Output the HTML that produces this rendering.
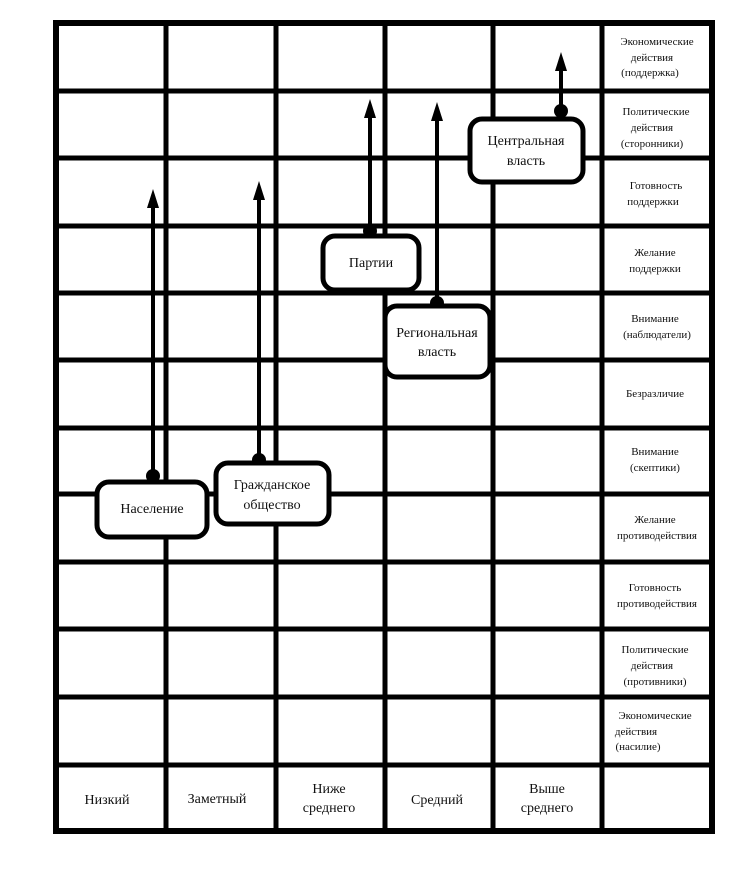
<!DOCTYPE html>
<html><head><meta charset="utf-8"><style>
body{margin:0;background:#fff;}
svg text{font-family:"Liberation Serif",serif;fill:#111;}
</style></head><body>
<svg width="740" height="866" viewBox="0 0 740 866" xmlns="http://www.w3.org/2000/svg">
<g stroke="#000" stroke-width="5" fill="none">
<rect x="56" y="23" width="656" height="808" stroke-width="6"/>
<line x1="166" y1="23" x2="166" y2="831"/>
<line x1="276" y1="23" x2="276" y2="831"/>
<line x1="385" y1="23" x2="385" y2="831"/>
<line x1="493" y1="23" x2="493" y2="831"/>
<line x1="602" y1="23" x2="602" y2="831"/>
<line x1="56" y1="91" x2="712" y2="91"/>
<line x1="56" y1="158" x2="712" y2="158"/>
<line x1="56" y1="226" x2="712" y2="226"/>
<line x1="56" y1="293" x2="712" y2="293"/>
<line x1="56" y1="360" x2="712" y2="360"/>
<line x1="56" y1="428" x2="712" y2="428"/>
<line x1="56" y1="494" x2="712" y2="494"/>
<line x1="56" y1="562" x2="712" y2="562"/>
<line x1="56" y1="629" x2="712" y2="629"/>
<line x1="56" y1="697" x2="712" y2="697"/>
<line x1="56" y1="765" x2="712" y2="765"/>
</g>
<!-- arrows -->
<g stroke="#000" stroke-width="4">
<line x1="153" y1="476" x2="153" y2="205"/>
<line x1="259" y1="460" x2="259" y2="197"/>
<line x1="370" y1="231" x2="370" y2="115"/>
<line x1="437" y1="303" x2="437" y2="118"/>
<line x1="561" y1="111" x2="561" y2="68"/>
</g>
<g fill="#000">
<polygon points="153,189 147,208 159,208"/>
<polygon points="259,181 253,200 265,200"/>
<polygon points="370,99 364,118 376,118"/>
<polygon points="437,102 431,121 443,121"/>
<polygon points="561,52 555,71 567,71"/>
<circle cx="153" cy="476" r="7"/>
<circle cx="259" cy="460" r="7"/>
<circle cx="370" cy="231" r="7"/>
<circle cx="437" cy="303" r="7"/>
<circle cx="561" cy="111" r="7"/>
</g>
<!-- boxes -->
<g fill="#fff" stroke="#000" stroke-width="5">
<rect x="97" y="482" width="110" height="55" rx="12"/>
<rect x="216" y="463" width="113" height="61" rx="12"/>
<rect x="323" y="236" width="96" height="54" rx="12"/>
<rect x="385" y="306" width="105" height="71" rx="12"/>
<rect x="470" y="119" width="113" height="63" rx="12"/>
</g>
<g font-size="14" text-anchor="middle">
<text x="152" y="513">Население</text>
<text x="272" y="489">Гражданское</text>
<text x="272" y="509">общество</text>
<text x="371" y="267">Партии</text>
<text x="437" y="337">Региональная</text>
<text x="437" y="356">власть</text>
<text x="526" y="145">Центральная</text>
<text x="526" y="165">власть</text>
<text x="107" y="804">Низкий</text>
<text x="217" y="803">Заметный</text>
<text x="329" y="793">Ниже</text>
<text x="329" y="812">среднего</text>
<text x="437" y="804">Средний</text>
<text x="547" y="793">Выше</text>
<text x="547" y="812">среднего</text>
</g>
<g font-size="11" text-anchor="middle">
<text x="657" y="45">Экономические</text><text x="652" y="61">действия</text><text x="650" y="76">(поддержка)</text>
<text x="656" y="115">Политические</text><text x="652" y="131">действия</text><text x="652" y="147">(сторонники)</text>
<text x="656" y="189">Готовность</text><text x="653" y="205">поддержки</text>
<text x="655" y="256">Желание</text><text x="655" y="272">поддержки</text>
<text x="655" y="322">Внимание</text><text x="657" y="338">(наблюдатели)</text>
<text x="655" y="397">Безразличие</text>
<text x="655" y="455">Внимание</text><text x="655" y="471">(скептики)</text>
<text x="655" y="523">Желание</text><text x="657" y="539">противодействия</text>
<text x="655" y="591">Готовность</text><text x="657" y="607">противодействия</text>
<text x="655" y="653">Политические</text><text x="652" y="669">действия</text><text x="655" y="685">(противники)</text>
<text x="655" y="719">Экономические</text><text x="636" y="735">действия</text><text x="638" y="750">(насилие)</text>
</g>
</svg>
</body></html>
